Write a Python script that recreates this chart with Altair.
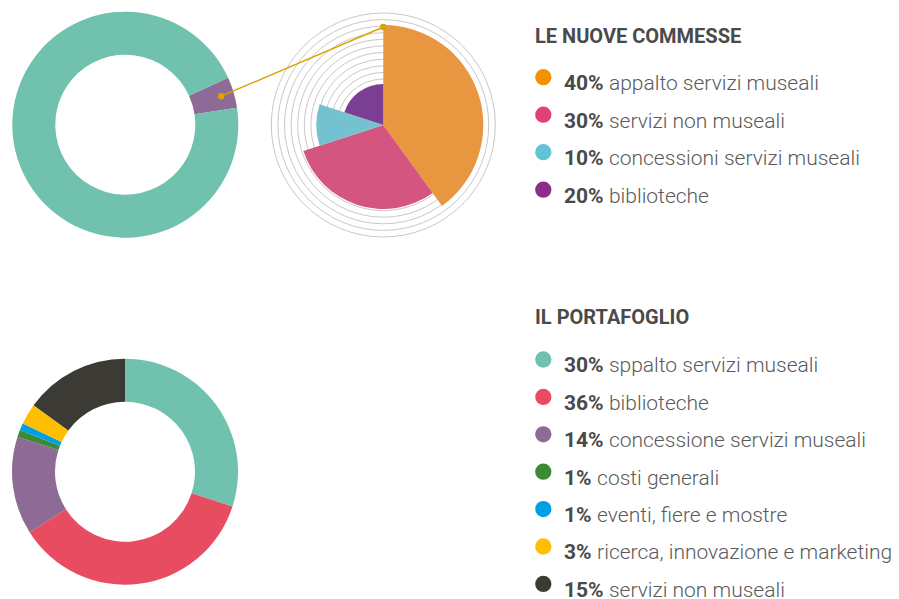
import math
import altair as alt
import pandas as pd

M = 8  # page margin of the html page

# ---------------- data ----------------
# top donut: share of the new orders inside the portfolio
top_cats = ["nuove commesse", "portafoglio"]
top_vals = [4.4, 95.6]
top_cols = ["#8E6B96", "#70C1AD"]
top_start_deg = 65.5

# polar-area (rose) chart: le nuove commesse
rose_cats = ["appalto servizi museali", "servizi non museali",
             "concessioni servizi museali", "biblioteche"]
rose_pct = [40, 30, 10, 20]
rose_radius = [100, 84, 67, 41]
rose_cols = ["#E8963F", "#D4557F", "#74C1D0", "#7A3F92"]
rose_dot_cols = ["#F39200", "#E2407A", "#62C3D5", "#8A2E8B"]
grid_levels = [46, 52.6, 59.2, 65.8, 72.4, 79, 85.6, 92.2, 98.8, 105.4, 112]

# bottom donut: il portafoglio
port_cats = ["sppalto servizi museali", "biblioteche", "concessione servizi museali",
             "costi generali", "eventi, fiere e mostre",
             "ricerca, innovazione e marketing", "servizi non museali"]
port_pct = [30, 36, 14, 1, 1, 3, 15]
port_cols = ["#70C1AD", "#E84C61", "#8E6B96", "#3A8A36", "#009FE3", "#FFBE00", "#3C3A35"]

titles = ["LE NUOVE COMMESSE", "IL PORTAFOGLIO"]

# ---------------- layout ----------------
C_TOP = (125.3 - M, 124.7 - M)
C_ROSE = (383.3 - M, 125.0 - M)
C_BOT = (125.0 - M, 471.7 - M)
R_IN, R_OUT = 70, 113
RMAX = 113
FONT = "Roboto"
TXT_DARK = "#4a4a4a"
TXT_LIGHT = "#5a5a5a"
LINE_COL = "#D9A300"
LEG_FS = 21

W, H = 883, 591

rscale = alt.Scale(type="linear", domain=[0, RMAX], range=[0, RMAX], zero=True)

# top donut
df_top = pd.DataFrame({"cat": top_cats, "v": top_vals, "c": top_cols, "o": [0, 1]})
off = math.radians(top_start_deg)
l_top = alt.Chart(df_top).mark_arc(innerRadius=R_IN, radius=R_OUT).encode(
    theta=alt.Theta("v:Q", stack=True, scale=alt.Scale(range=[off, off + 2 * math.pi])),
    order=alt.Order("o:Q"),
    color=alt.Color("c:N", scale=None),
    x=alt.value(C_TOP[0]), y=alt.value(C_TOP[1]),
)

# rose grid
df_grid = pd.DataFrame({"r": grid_levels})
l_grid = alt.Chart(df_grid).mark_arc(
    filled=False, stroke="#c8c8c8", strokeWidth=1, theta=0, theta2=2 * math.pi
).encode(
    radius=alt.Radius("r:Q", scale=rscale, stack=False),
    x=alt.value(C_ROSE[0]), y=alt.value(C_ROSE[1]),
)

# rose (cumulative angles computed with a window transform)
df_rose = pd.DataFrame({"cat": rose_cats, "pct": rose_pct, "r": rose_radius,
                        "c": rose_cols, "o": list(range(len(rose_cats)))})
l_rose = alt.Chart(df_rose).transform_window(
    cum="sum(pct)", sort=[alt.SortField("o", order="ascending")]
).transform_calculate(
    start="datum.cum - datum.pct"
).mark_arc().encode(
    theta=alt.Theta("start:Q", stack=False,
                    scale=alt.Scale(domain=[0, 100], range=[0, 2 * math.pi])),
    theta2="cum:Q",
    radius=alt.Radius("r:Q", scale=rscale, stack=False),
    color=alt.Color("c:N", scale=None),
    x=alt.value(C_ROSE[0]), y=alt.value(C_ROSE[1]),
)

# connector from the "nuove commesse" slice to the rose
mid_deg = top_start_deg + top_vals[0] / sum(top_vals) * 360 / 2
dot_r = 100
x1 = C_TOP[0] + dot_r * math.sin(math.radians(mid_deg))
y1 = C_TOP[1] - dot_r * math.cos(math.radians(mid_deg))
x2 = C_ROSE[0]
y2 = C_ROSE[1] - (rose_radius[0] - 2)
df_conn = pd.DataFrame({"x1": [x1], "y1": [y1], "x2": [x2], "y2": [y2]})
l_conn = alt.Chart(df_conn).mark_rule(color=LINE_COL, strokeWidth=1.4).encode(
    x=alt.X("x1:Q", scale=None, axis=None), y=alt.Y("y1:Q", scale=None, axis=None),
    x2="x2:Q", y2="y2:Q",
)
df_cdots = pd.DataFrame({"x": [x1, x2], "y": [y1, y2]})
l_cdots = alt.Chart(df_cdots).mark_circle(size=42, color=LINE_COL, opacity=1).encode(
    x=alt.X("x:Q", scale=None, axis=None), y=alt.Y("y:Q", scale=None, axis=None),
)

# bottom donut
df_port = pd.DataFrame({"cat": port_cats, "pct": port_pct, "c": port_cols,
                        "o": list(range(len(port_cats)))})
l_bot = alt.Chart(df_port).mark_arc(innerRadius=R_IN, radius=R_OUT).encode(
    theta=alt.Theta("pct:Q", stack=True),
    order=alt.Order("o:Q"),
    color=alt.Color("c:N", scale=None),
    x=alt.value(C_BOT[0]), y=alt.value(C_BOT[1]),
)

# ---------------- legends ----------------
LX_TITLE = 535 - M
LX_DOT = 543.3 - M
LX_PCT = 564 - M
DIG_W, PCT_W, SPACE_W = 11.8, 15.3, 6.0


def legend_rows(pcts, labels, cols, base, step):
    rows = []
    for i, (p, lab, c) in enumerate(zip(pcts, labels, cols)):
        s = f"{p}%"
        yb = base + i * step - M
        rows.append({"pct": s, "label": lab, "c": c, "yb": yb, "yd": yb - 12.8,
                     "xl": LX_PCT + len(str(p)) * DIG_W + PCT_W + SPACE_W})
    return rows


leg = pd.DataFrame(
    legend_rows(rose_pct, rose_cats, rose_dot_cols, 90.0, 37.5)
    + legend_rows(port_pct, port_cats, port_cols, 372.3, 37.4)
)

df_titles = pd.DataFrame({"t": titles, "y": [43.3 - M, 324.3 - M]})
l_titles = alt.Chart(df_titles).mark_text(
    align="left", baseline="alphabetic", font=FONT, fontSize=20, fontWeight="bold",
    color=TXT_DARK,
).encode(x=alt.value(LX_TITLE), y=alt.Y("y:Q", scale=None, axis=None), text="t:N")

l_ldots = alt.Chart(leg).mark_circle(size=265, opacity=1).encode(
    x=alt.value(LX_DOT), y=alt.Y("yd:Q", scale=None, axis=None),
    color=alt.Color("c:N", scale=None),
)
l_lpct = alt.Chart(leg).mark_text(
    align="left", baseline="alphabetic", font=FONT, fontSize=LEG_FS, fontWeight="bold",
    color=TXT_DARK,
).encode(x=alt.value(LX_PCT), y=alt.Y("yb:Q", scale=None, axis=None), text="pct:N")
l_llab = alt.Chart(leg).mark_text(
    align="left", baseline="alphabetic", font=FONT, fontSize=LEG_FS, fontWeight=300,
    color=TXT_LIGHT,
).encode(x=alt.X("xl:Q", scale=None, axis=None), y=alt.Y("yb:Q", scale=None, axis=None),
         text="label:N")

chart = alt.layer(
    l_top, l_grid, l_rose, l_bot, l_conn, l_cdots, l_titles, l_ldots, l_lpct, l_llab
).resolve_scale(
    theta="independent", color="independent"
).properties(
    width=W, height=H, padding=0, autosize=alt.AutoSizeParams(type="none"),
    background="white",
).configure_view(stroke=None)

chart.save("out.html", embed_options={"renderer": "svg", "actions": False})
